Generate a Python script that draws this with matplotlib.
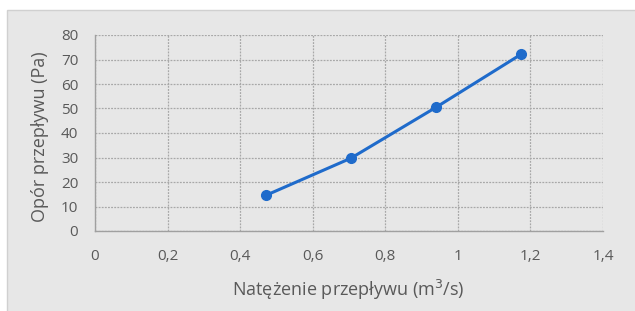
import matplotlib
matplotlib.use("Agg")
import matplotlib.pyplot as plt
from matplotlib.patches import Rectangle
from matplotlib.ticker import FuncFormatter

flow = [0.47, 0.705, 0.94, 1.175]
resistance = [14.5, 29.7, 50.5, 72.2]
x_ticks = [0, 0.2, 0.4, 0.6, 0.8, 1.0, 1.2, 1.4]
y_ticks = [0, 10, 20, 30, 40, 50, 60, 70, 80]

plt.rcParams['font.family'] = ['Open Sans', 'DejaVu Sans']
txt = '#595959'
bg = '#E7E7E7'

fig = plt.figure(figsize=(6.35, 3.11), dpi=100)
fig.patch.set_facecolor('white')
fig.add_artist(Rectangle((7/635, -0.01), 1, 1 - 10/311 + 0.01, transform=fig.transFigure,
                         facecolor=bg, edgecolor='#D0D0D0', linewidth=1.0, zorder=-10))

ax = fig.add_axes([95/635, 80/311, 508/635, 196/311])
ax.set_facecolor(bg)
ax.plot(flow, resistance, color='#1F6BCB', linewidth=2.2, marker='o', markersize=7, zorder=3)

ax.set_xlim(0, 1.4)
ax.set_ylim(0, 80)
ax.set_xticks(x_ticks)
ax.set_yticks(y_ticks)

def fmt(v, pos):
    s = ('%.1f' % v).rstrip('0').rstrip('.')
    return s.replace('.', ',')
ax.xaxis.set_major_formatter(FuncFormatter(fmt))

ax.grid(True, color='#A8A8A8', linestyle=(0, (1.5, 1)), linewidth=0.9)
ax.set_axisbelow(True)
for s in ['top', 'right']:
    ax.spines[s].set_visible(False)
for s in ['left', 'bottom']:
    ax.spines[s].set_color('#A0A0A0')
    ax.spines[s].set_linewidth(1.0)
ax.tick_params(length=0, colors=txt, labelsize=11)
ax.tick_params(axis='y', pad=12)
ax.tick_params(axis='x', pad=13)

ax.set_xlabel('Natężenie przepływu (m$^3$/s)', color=txt, fontsize=13)
ax.set_ylabel('Opór przepływu (Pa)', color=txt, fontsize=13)
ax.xaxis.label.set_va('center')
ax.yaxis.label.set_va('center')
ax.xaxis.set_label_coords(0.498, -0.30)
ax.yaxis.set_label_coords(-0.108, 0.48)

fig.savefig('out.png', dpi=100, facecolor='white')
